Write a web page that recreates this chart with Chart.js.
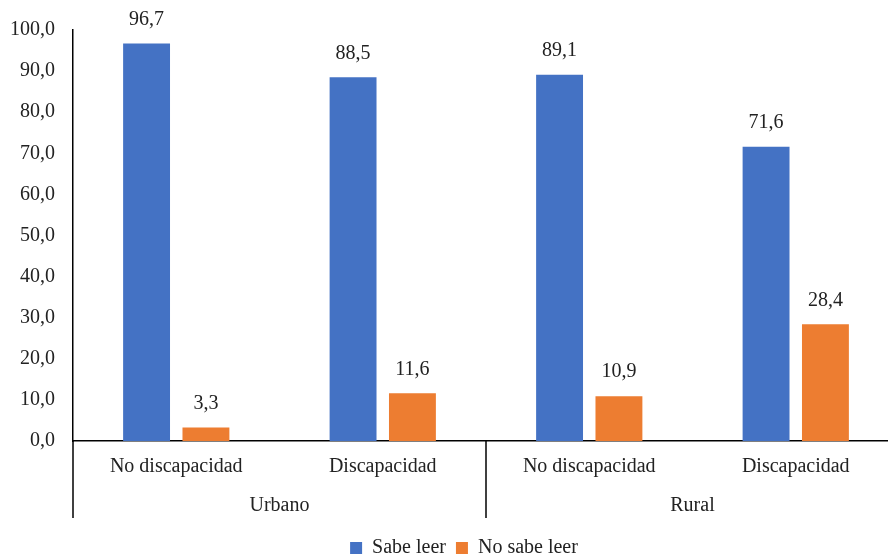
<!DOCTYPE html>
<html>
<head>
<meta charset="utf-8">
<script src="https://cdn.jsdelivr.net/npm/chart.js@4"></script>
<style>
  html, body { margin: 0; padding: 0; background: #fff; overflow: hidden; }
  #wrap { width: 928px; height: 556px; }
</style>
</head>
<body>
<div id="wrap"><canvas id="chart" width="928" height="556"></canvas></div>
<script>
// datos
const categorias = ["No discapacidad", "Discapacidad", "No discapacidad", "Discapacidad"];
const zonas = ["Urbano", "Rural"];
const sabeLeer = [96.7, 88.5, 89.1, 71.6];
const noSabeLeer = [3.3, 11.6, 10.9, 28.4];
const seriesNombres = ["Sabe leer", "No sabe leer"];

const FONT = "'Liberation Serif', 'DejaVu Serif', serif";
const fmt = v => v.toFixed(1).replace(".", ",");

Chart.defaults.font.family = FONT;
Chart.defaults.font.size = 20;
Chart.defaults.color = "#222";

// etiquetas de valor encima de cada barra
const etiquetasPlugin = {
    id: "etiquetas",
    afterDatasetsDraw(chart) {
        const ctx = chart.ctx;
        ctx.save();
        ctx.font = "20px " + FONT;
        ctx.fillStyle = "#222";
        ctx.textAlign = "center";
        ctx.textBaseline = "bottom";
        chart.data.datasets.forEach((ds, i) => {
            chart.getDatasetMeta(i).data.forEach((bar, j) => {
                ctx.fillText(fmt(ds.data[j]), bar.x, bar.y - 14);
            });
        });
        ctx.restore();
    }
};

// lineas separadoras del eje de dos niveles
const separadoresPlugin = {
    id: "separadores",
    afterDraw(chart) {
        const x = chart.scales.x;
        const ctx = chart.ctx;
        const mid = (x.getPixelForValue(1) + x.getPixelForValue(2)) / 2;
        ctx.save();
        ctx.strokeStyle = "#000";
        ctx.lineWidth = 1.5;
        [x.left, mid, x.right].forEach(px => {
            ctx.beginPath();
            ctx.moveTo(px, x.top);
            ctx.lineTo(px, x.top + 77);
            ctx.stroke();
        });
        ctx.restore();
    }
};

new Chart(document.getElementById("chart"), {
    type: "bar",
    data: {
        labels: categorias,
        datasets: [
            {
                label: seriesNombres[0],
                data: sabeLeer,
                backgroundColor: "#4472C4",
                categoryPercentage: 0.575,
                barPercentage: 0.79
            },
            {
                label: seriesNombres[1],
                data: noSabeLeer,
                backgroundColor: "#ED7D31",
                categoryPercentage: 0.575,
                barPercentage: 0.79
            }
        ]
    },
    options: {
        responsive: false,
        animation: false,
        layout: {
            padding: { top: 29, right: 0, left: 0, bottom: -12 }
        },
        plugins: {
            legend: {
                position: "bottom",
                labels: {
                    boxWidth: 12,
                    boxHeight: 12,
                    padding: 10,
                    color: "#222",
                    font: { family: FONT, size: 20 }
                }
            },
            tooltip: { enabled: false }
        },
        scales: {
            y: {
                min: 0,
                max: 100,
                ticks: {
                    stepSize: 10,
                    padding: 18,
                    color: "#222",
                    font: { family: FONT, size: 20 },
                    callback: v => fmt(v)
                },
                grid: { display: false, drawTicks: false },
                border: { display: true, color: "#000", width: 1.5 },
                afterFit: s => { s.width = 73; }
            },
            // eje vacio a la derecha (fuera de la ventana)
            yDer: {
                type: "linear",
                position: "right",
                ticks: { display: false },
                grid: { display: false, drawTicks: false },
                border: { display: false },
                afterFit: s => { s.width = 29; }
            },
            x: {
                ticks: {
                    padding: 14,
                    color: "#222",
                    maxRotation: 0,
                    font: { family: FONT, size: 20 }
                },
                grid: { display: false, drawTicks: false },
                border: { display: true, color: "#000", width: 1.5 },
                afterFit: s => { s.height = 40; }
            },
            x2: {
                type: "category",
                labels: zonas,
                position: "bottom",
                offset: true,
                ticks: {
                    padding: 13,
                    color: "#222",
                    font: { family: FONT, size: 20 }
                },
                grid: { display: false, drawTicks: false },
                border: { display: false },
                afterFit: s => { s.height = 47; }
            }
        }
    },
    plugins: [etiquetasPlugin, separadoresPlugin]
});
</script>
</body>
</html>
